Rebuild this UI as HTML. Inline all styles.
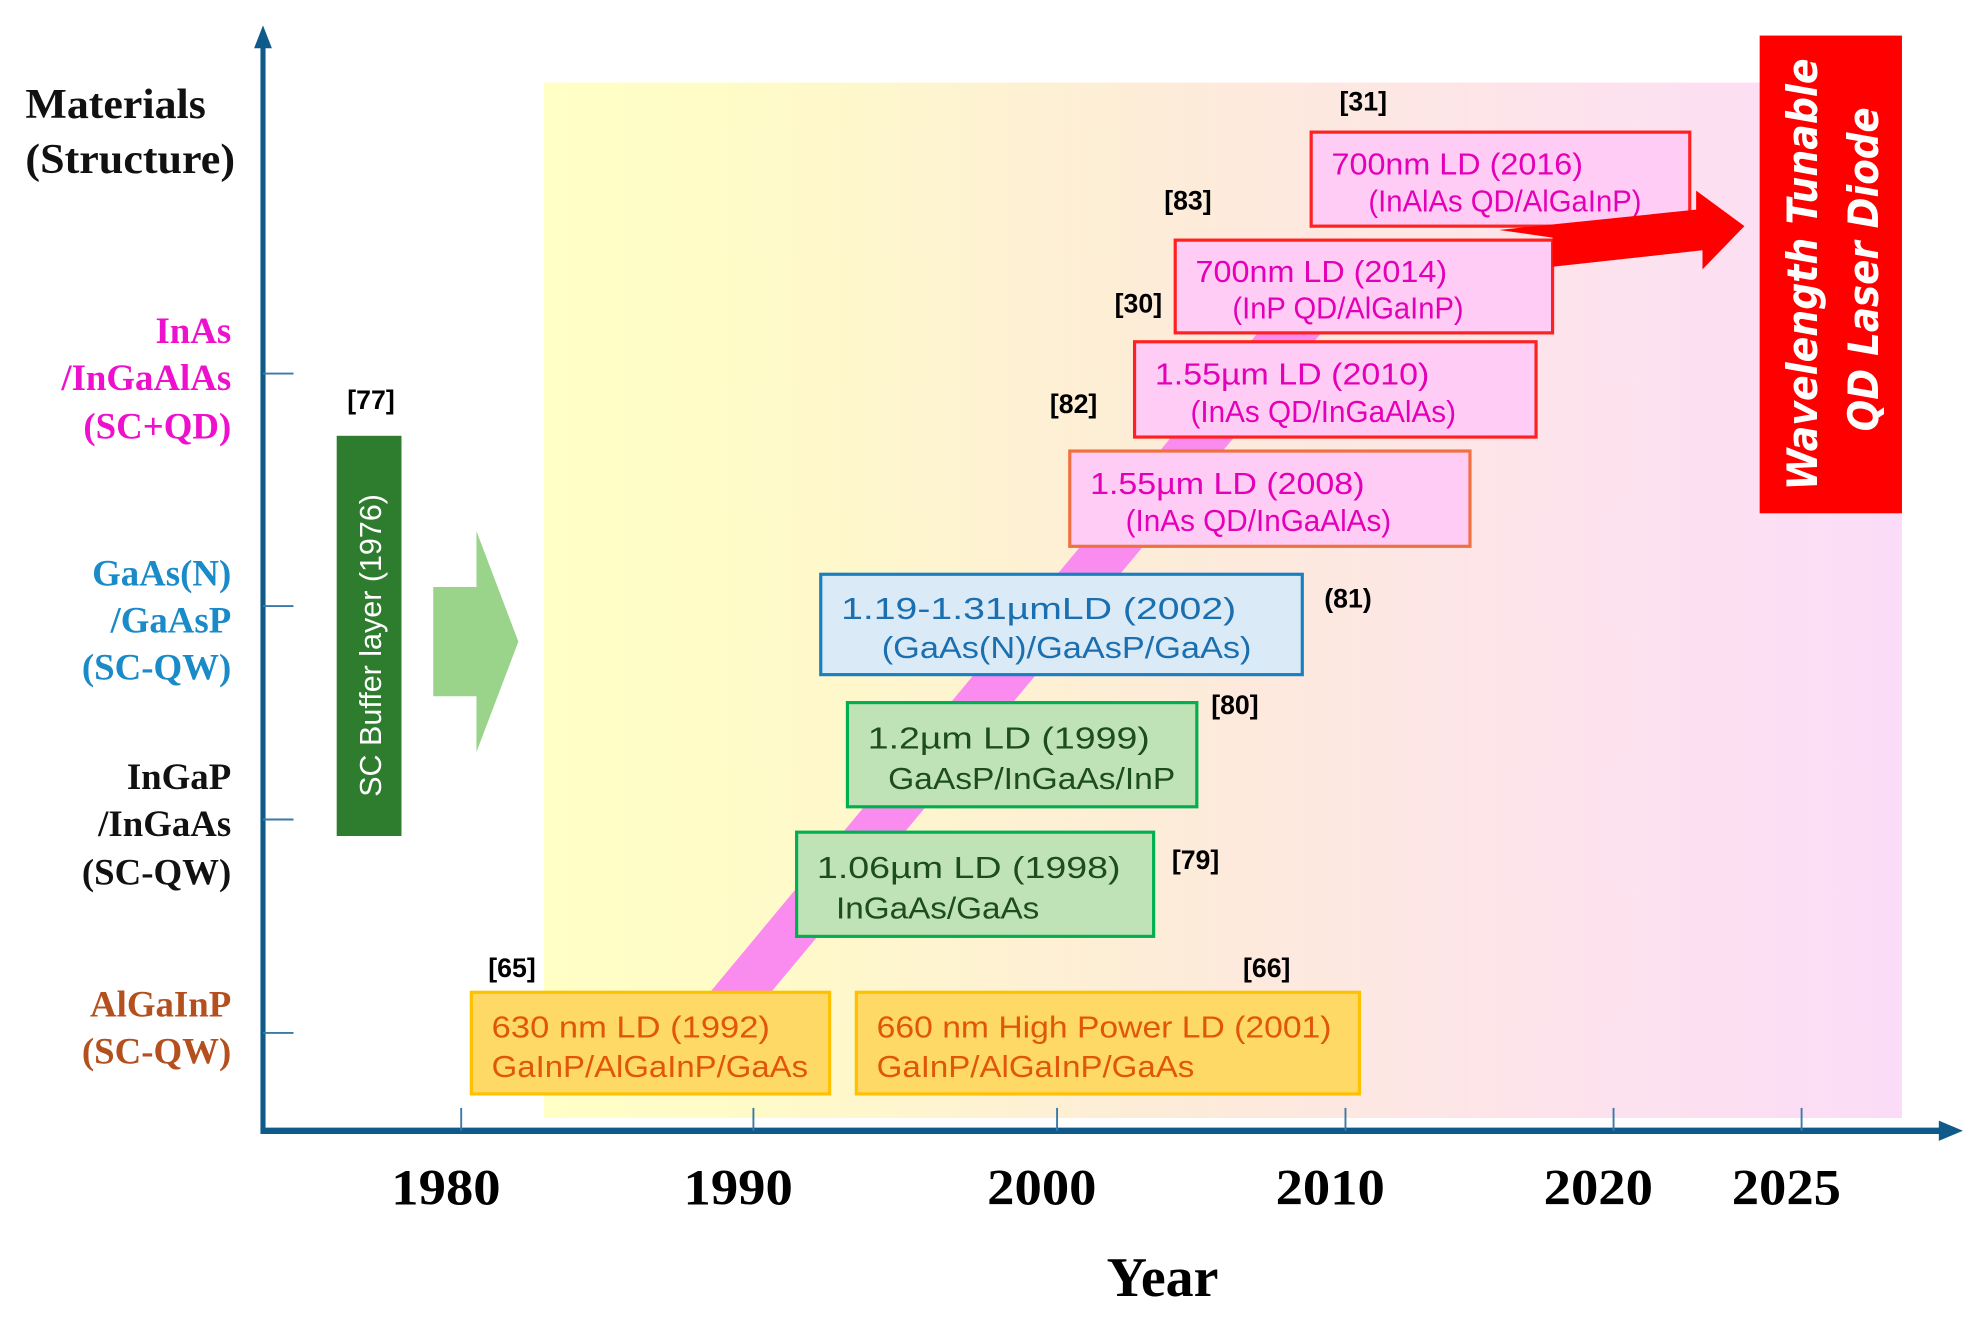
<!DOCTYPE html>
<html><head><meta charset="utf-8"><title>QD laser timeline</title>
<style>html,body{margin:0;padding:0;background:#fff;overflow:hidden}svg{display:block}</style></head>
<body>
<svg id="chart" width="1982" height="1331" viewBox="0 0 1560 1047.6" preserveAspectRatio="none" xmlns="http://www.w3.org/2000/svg">
<defs>
<linearGradient id="bg" x1="0" x2="1" y1="0" y2="0">
<stop offset="0" stop-color="#ffffc6"/><stop offset="0.15" stop-color="#fffbc8"/><stop offset="0.45" stop-color="#fdecd8"/><stop offset="0.75" stop-color="#fde3ec"/><stop offset="1" stop-color="#fbdcf8"/>
</linearGradient>
</defs>
<rect x="428" y="65" width="1069" height="815" fill="url(#bg)"/>
<polygon points="558,782 606,782 1040,262 990,262" fill="#fa8cf0"/>
<g id="axes">
<line x1="207" y1="890" x2="207" y2="36" stroke="#0e5a8a" stroke-width="4"/>
<polygon points="200,38 207,20 214,38" fill="#0e5a8a"/>
<line x1="205" y1="890" x2="1528" y2="890" stroke="#0e5a8a" stroke-width="5"/>
<polygon points="1526,882 1545,890 1526,898" fill="#0e5a8a"/>
</g>
<g id="xticks"></g>
<g id="yticks"></g>
<text font-family="Liberation Serif, serif" font-weight="bold" font-size="33" fill="#111"><tspan x="20" y="93" textLength="142" lengthAdjust="spacingAndGlyphs">Materials</tspan><tspan x="20" y="136" textLength="165" lengthAdjust="spacingAndGlyphs">(Structure)</tspan></text>
<g id="ylabels" font-family="Liberation Serif, serif" font-weight="bold" font-size="29" text-anchor="end"></g>
<text x="915" y="1020" text-anchor="middle" font-family="Liberation Serif, serif" font-weight="bold" font-size="44" fill="#000">Year</text>

<rect x="265" y="343" width="51" height="315" fill="#2e7d2e"/>
<text transform="translate(300,508) rotate(-90)" text-anchor="middle" font-family="Liberation Sans, sans-serif" font-size="24" fill="#fff">SC Buffer layer (1976)</text>
<text x="292" y="322" text-anchor="middle" font-family="Liberation Sans, sans-serif" font-weight="bold" font-size="21">[77]</text>
<polygon points="341,462 375,462 375,418 408,505 375,592 375,548 341,548" fill="#9ad48a"/>

<g id="boxes" font-family="Liberation Sans Narrow, Liberation Sans, sans-serif" font-size="24"></g>
<g id="refs" font-family="Liberation Sans, sans-serif" font-weight="bold" font-size="21" text-anchor="middle"></g>

<polygon points="1180,181 1335,165 1335,150 1373,178 1340,212 1340,197 1222,210 1222,187" fill="#ff0000"/>
<rect x="1385" y="28" width="112" height="376" fill="#ff0000"/>
<text transform="translate(1430,216) rotate(-90)" text-anchor="middle" font-family="DejaVu Sans, sans-serif" font-weight="bold" font-style="italic" font-size="33" fill="#fff" textLength="340" lengthAdjust="spacingAndGlyphs">Wavelength Tunable</text>
<text transform="translate(1478,212) rotate(-90)" text-anchor="middle" font-family="DejaVu Sans, sans-serif" font-weight="bold" font-style="italic" font-size="33" fill="#fff" textLength="255" lengthAdjust="spacingAndGlyphs">QD Laser Diode</text>
</svg>
<script>
const tickYears = [1980, 1990, 2000, 2010, 2020, 2025];
const tickLabels = ["1980", "1990", "2000", "2010", "2020", "2025"];
const categories = ["AlGaInP", "InGaP/InGaAs", "GaAs(N)/GaAsP", "InAs/InGaAlAs"];
const categoryLines = [["AlGaInP","(SC-QW)"],["InGaP","/InGaAs","(SC-QW)"],["GaAs(N)","/GaAsP","(SC-QW)"],["InAs","/InGaAlAs","(SC+QD)"]];
const categoryColors = ["#b4501e","#111111","#1a8ac9","#ee10cc"];

const NS = "http://www.w3.org/2000/svg";
const xDom = [1980,1990,2000,2010,2020,2025], xRng = [363,593,832,1059,1270,1418];
function xScale(yr){
  for(let i=0;i<xDom.length-1;i++){
    if(yr<=xDom[i+1]||i===xDom.length-2){
      return xRng[i]+(yr-xDom[i])/(xDom[i+1]-xDom[i])*(xRng[i+1]-xRng[i]);
    }
  }
}
function yScale(i){ return [813,645,477,294][i]; }
function mk(tag, attrs, parent){ const e=document.createElementNS(NS,tag); for(const k in attrs) e.setAttribute(k,attrs[k]); parent.appendChild(e); return e; }

const xt = document.getElementById('xticks');
tickYears.forEach((yr,i)=>{
  const x = xScale(yr);
  const l = mk('line',{x1:x,y1:872,x2:x,y2:890,stroke:'#3a7aa8','stroke-width':1.5},xt);
  
  
  const t = mk('text',{x:x-12,y:948,'text-anchor':'middle','font-family':'Liberation Serif, serif','font-weight':'bold','font-size':40,textLength:86,lengthAdjust:'spacingAndGlyphs'},xt);
  t.textContent = tickLabels[i];
  
  
});
const yt = document.getElementById('yticks'), yl = document.getElementById('ylabels');
categories.forEach((c,i)=>{
  const y = yScale(i);
  const l = mk('line',{x1:207,y1:y,x2:231,y2:y,stroke:'#3a7aa8','stroke-width':1.5},yt);
  
  
  const lines = categoryLines[i];
  const t = mk('text',{fill:categoryColors[i]},yl);
  
  
  let off = lines.length===2 ? [-13,24] : [-24,13,51];
  if(i===2) off = [-16,21,58];
  lines.forEach((s,j)=>{ const ts = mk('tspan',{x:182,y:y+off[j]},t); ts.textContent=s; });
});

const boxes = [
 {n:'box-630nm',x:371,y:781,w:282,h:80,fill:'#ffd966',stroke:'#ffc000',col:'#e0560a',l1:'630 nm LD (1992)',w1:219,l2:'GaInP/AlGaInP/GaAs',w2:249,i2:0},
 {n:'box-660nm',x:674,y:781,w:396,h:80,fill:'#ffd966',stroke:'#ffc000',col:'#e0560a',l1:'660 nm High Power LD (2001)',w1:358,l2:'GaInP/AlGaInP/GaAs',w2:250,i2:0},
 {n:'box-1-06um',x:627,y:655,w:281,h:82,fill:'#bfe3b6',stroke:'#00b050',col:'#1d4d1d',l1:'1.06\u00b5m LD (1998)',w1:239,l2:'InGaAs/GaAs',w2:160,i2:15},
 {n:'box-1-2um',x:667,y:553,w:275,h:82,fill:'#bfe3b6',stroke:'#00b050',col:'#1d4d1d',l1:'1.2\u00b5m LD (1999)',w1:222,l2:'GaAsP/InGaAs/InP',w2:226,i2:16},
 {n:'box-1-19um',x:646,y:452,w:379,h:79,fill:'#dbeaf7',stroke:'#1a7fc1',col:'#1a6fb0',l1:'1.19-1.31\u00b5mLD (2002)',w1:311,l2:'(GaAs(N)/GaAsP/GaAs)',w2:291,i2:32},
 {n:'box-1-55um-2008',x:842,y:355,w:315,h:75,fill:'#ffccf6',stroke:'#f07040',col:'#e400b8',l1:'1.55\u00b5m LD (2008)',w1:216,l2:'(InAs QD/InGaAlAs)',w2:209,i2:28},
 {n:'box-1-55um-2010',x:893,y:269,w:316,h:75,fill:'#ffccf6',stroke:'#ff2020',col:'#e400b8',l1:'1.55\u00b5m LD (2010)',w1:216,l2:'(InAs QD/InGaAlAs)',w2:209,i2:28},
 {n:'box-700nm-2014',x:925,y:189,w:297,h:73,fill:'#ffccf6',stroke:'#ff2020',col:'#e400b8',l1:'700nm LD (2014)',w1:198,l2:'(InP QD/AlGaInP)',w2:182,i2:29},
 {n:'box-700nm-2016',x:1032,y:104,w:298,h:74,fill:'#ffccf6',stroke:'#ff2020',col:'#e400b8',l1:'700nm LD (2016)',w1:198,l2:'(InAlAs QD/AlGaInP)',w2:215,i2:29}
];
const bg = document.getElementById('boxes');
boxes.forEach(b=>{
  const g = mk('g',{},bg);
  
  
  mk('rect',{x:b.x,y:b.y,width:b.w,height:b.h,fill:b.fill,stroke:b.stroke,'stroke-width':2.5},g);
  const t1 = mk('text',{x:b.x+16,y:b.y+b.h*0.33+9,fill:b.col,textLength:b.w1,lengthAdjust:'spacingAndGlyphs'},g);
  t1.textContent = b.l1;
  const t2 = mk('text',{x:b.x+16+b.i2,y:b.y+b.h*0.72+9,fill:b.col,textLength:b.w2,lengthAdjust:'spacingAndGlyphs'},g);
  t2.textContent = b.l2;
});
const refs = [['[65]',403,769],['[66]',997,769],['[79]',941,684],['[80]',972,562],['(81)',1061,478],['[82]',845,325],['[30]',896,246],['[83]',935,165],['[31]',1073,87]];
const rg = document.getElementById('refs');
refs.forEach(r=>{
  const t = mk('text',{x:r[1],y:r[2]},rg);
  t.textContent = r[0];
  
  
});
</script>
</body></html>
